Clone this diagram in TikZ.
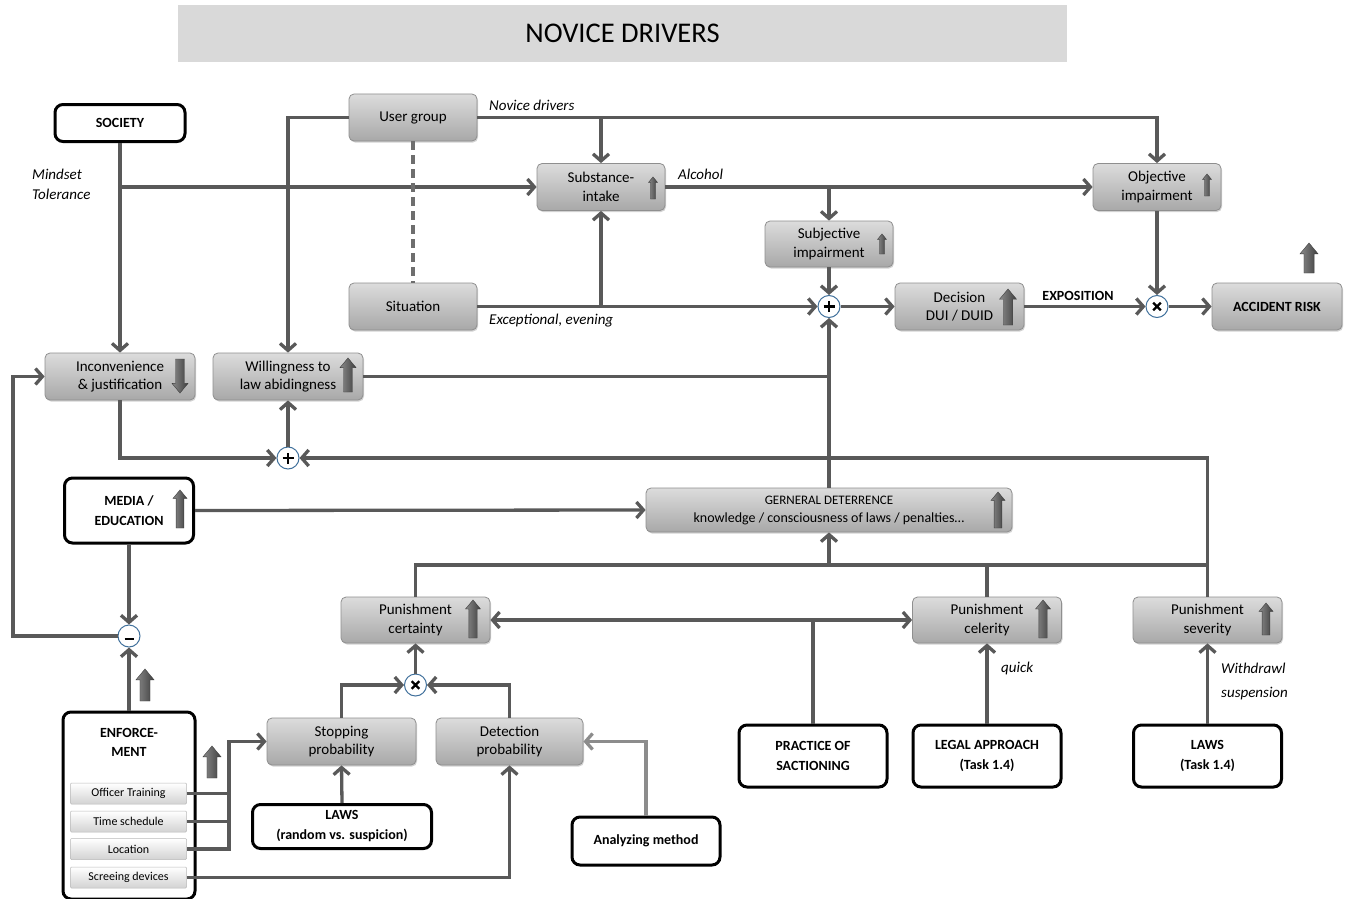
\documentclass[tikz,border=0pt]{standalone}
\usepackage{fontspec}
\setmainfont{Carlito}
\usetikzlibrary{arrows.meta,shadows,calc}

\definecolor{ln}{HTML}{595959}
\definecolor{lnlight}{HTML}{8C8C8C}
\definecolor{dashcol}{HTML}{6E6E6E}
\definecolor{boxtop}{HTML}{DCDCDC}
\definecolor{boxbot}{HTML}{A8A8A8}
\definecolor{boxedge}{HTML}{8F8F8F}
\definecolor{iconL}{HTML}{8A8A8A}
\definecolor{iconR}{HTML}{3F3F3F}
\definecolor{opedge}{HTML}{41719C}
\definecolor{titlebg}{HTML}{D9D9D9}

\tikzset{
  >={Straight Barb[length=7pt,width=16pt]},
  gbox/.style={rounded corners=5pt, draw=boxedge, line width=0.8pt,
    top color=boxtop, bottom color=boxbot, align=center, inner sep=0pt,
    font=\fontsize{15}{18.5}\selectfont,
    drop shadow={opacity=0.35, shadow xshift=1pt, shadow yshift=-1.5pt}},
  wbox/.style={rounded corners=8pt, draw=black, line width=3pt, fill=white,
    align=center, inner sep=0pt, font=\bfseries\fontsize{14}{20}\selectfont},
  sbox/.style={draw=gray!55, line width=0.5pt, top color=white, bottom color=gray!35,
    rounded corners=1pt, minimum width=116, minimum height=21, inner sep=0pt,
    font=\fontsize{12}{14}\selectfont},
  op/.style={circle, draw=opedge, line width=1pt, fill=white, minimum size=22, inner sep=0pt},
  symline/.style={draw=black, line width=2.6pt},
  conn/.style={draw=ln, line width=3.3pt, ->},
  dconn/.style={draw=ln, line width=3.3pt, <->},
  wire/.style={draw=ln, line width=3.3pt},
  lbl/.style={font=\itshape\fontsize{15}{17}\selectfont, anchor=west, inner sep=0pt},
}

% block arrow icon: centre x, centre y, height, width, direction (1 up, -1 down)
\newcommand{\arrowicon}[5]{%
  \begin{scope}[shift={(#1,#2)}, yscale=#5]
    \path[left color=iconL, right color=iconR, draw=iconR, line width=0.4pt]
      (0,{-#3/2}) -- ({#4/2},{-#3/2+0.6*#4}) -- ({0.28*#4},{-#3/2+0.6*#4})
      -- ({0.28*#4},{#3/2}) -- ({-0.28*#4},{#3/2}) -- ({-0.28*#4},{-#3/2+0.6*#4})
      -- ({-#4/2},{-#3/2+0.6*#4}) -- cycle;
  \end{scope}}

\newcommand{\plussym}[1]{\draw[symline] ([xshift=-5.5pt]#1.center) -- ([xshift=5.5pt]#1.center)
  ([yshift=-5.5pt]#1.center) -- ([yshift=5.5pt]#1.center);}
\newcommand{\timessym}[1]{\draw[symline, line width=2.3pt] ([shift={(-3.8pt,-3.8pt)}]#1.center) -- ([shift={(3.8pt,3.8pt)}]#1.center)
  ([shift={(-3.8pt,3.8pt)}]#1.center) -- ([shift={(3.8pt,-3.8pt)}]#1.center);}
\newcommand{\minussym}[1]{\draw[symline] ([shift={(-4.5pt,-3pt)}]#1.center) -- ([shift={(4.5pt,-3pt)}]#1.center);}

\begin{document}
\begin{tikzpicture}[x=1pt, y=-1pt]
\useasboundingbox (0,0) rectangle (1350,899);
\fill[white] (0,0) rectangle (1350,899);

% title bar
\node[fill=titlebg, minimum width=889, minimum height=57, inner sep=0pt,
  font=\fontsize{28.5}{30}\selectfont] (title) at (622.5,33.5) {NOVICE DRIVERS};

% grey factor boxes
\node[gbox, minimum width=128, minimum height=47] (ug) at (413,117.5) {User group};
\node[gbox, minimum width=128, minimum height=47] (sit) at (413,306.5) {Situation};
\node[gbox, minimum width=128, minimum height=47] (sub) at (601,187) {Substance-\\intake};
\node[gbox, minimum width=128, minimum height=47] (obj) at (1157,187) {Objective\\impairment};
\node[gbox, minimum width=128, minimum height=46] (subj) at (829,244) {Subjective\\impairment};
\node[gbox, minimum width=129, minimum height=47] (dec) at (959.5,306.5) {Decision\\DUI / DUID};
\node[gbox, minimum width=130, minimum height=47, font=\bfseries\fontsize{14}{16}\selectfont] (acc) at (1277,306.5) {ACCIDENT RISK};
\node[gbox, minimum width=150, minimum height=47] (inc) at (120,376.5) {Inconvenience\\\& justification};
\node[gbox, minimum width=150, minimum height=47] (wil) at (288,376.5) {Willingness to\\law abidingness};
\node[gbox, minimum width=366, minimum height=44, font=\fontsize{14}{18}\selectfont] (gd) at (829,510)
  {{\fontsize{13}{16}\selectfont GERNERAL DETERRENCE}\\knowledge / consciousness of laws / penalties…};
\node[gbox, minimum width=149, minimum height=46] (cert) at (415.5,620) {Punishment\\certainty};
\node[gbox, minimum width=149, minimum height=46] (cel) at (987,620) {Punishment\\celerity};
\node[gbox, minimum width=149, minimum height=46] (sev) at (1207.5,620) {Punishment\\severity};
\node[gbox, minimum width=149, minimum height=47] (stop) at (341.5,741.5) {Stopping\\probability};
\node[gbox, minimum width=147, minimum height=47] (det) at (509.5,741.5) {Detection\\probability};

% white source boxes
\node[wbox, minimum width=130, minimum height=37] (soc) at (120,123) {SOCIETY};
\node[wbox, minimum width=129, minimum height=65] (med) at (129,510.5) {MEDIA /\\EDUCATION};
\node[wbox, minimum width=132, minimum height=187] (enf) at (129,805.5) {};
\node[font=\bfseries\fontsize{14}{19}\selectfont, align=center, inner sep=0pt] (enft) at (129,742) {ENFORCE-\\MENT};
\node[sbox] (s1) at (128.5,793.5) {Officer Training};
\node[sbox] (s2) at (128.5,821.5) {Time schedule};
\node[sbox] (s3) at (128.5,849) {Location};
\node[sbox] (s4) at (128.5,877.5) {Screeing devices};
\node[wbox, minimum width=179, minimum height=44] (lawsr) at (342,826.5) {LAWS\\(random vs. suspicion)};
\node[wbox, minimum width=148, minimum height=48] (ana) at (646,841) {Analyzing method};
\node[wbox, minimum width=148, minimum height=62] (prac) at (813,756) {PRACTICE OF\\SACTIONING};
\node[wbox, minimum width=148, minimum height=62] (legal) at (987,756) {LEGAL APPROACH\\(Task 1.4)};
\node[wbox, minimum width=148, minimum height=62] (laws) at (1207.5,756) {LAWS\\(Task 1.4)};

% operators
\node[op] (p1) at (829,306.5) {};
\node[op] (x1) at (1157,306.5) {};
\node[op] (p2) at (288,458) {};
\node[op] (mn) at (129,636) {};
\node[op] (x2) at (415.5,685) {};
\plussym{p1}
\plussym{p2}
\timessym{x1}
\timessym{x2}
\minussym{mn}

% helper points
\coordinate (lft) at (13,636);
\coordinate (bar) at (829,565);
\coordinate (jn) at (229,741.5);

% upper causal chain
\draw[conn] (soc.south) -- (inc.north);
\draw[conn] (soc.south |- sub.west) -- (sub.west);
\draw[conn] (ug.west) -| (wil.north);
\draw[conn] (ug.east) -| (obj.north);
\draw[conn] (ug.east -| sub.north) -- (sub.north);
\draw[draw=dashcol, line width=3.3pt, dash pattern=on 9pt off 5pt] (ug.south) -- (sit.north);
\draw[conn] (sit.east) -- (p1.west);
\draw[conn] (sit.east -| sub.south) -- (sub.south);
\draw[conn] (sub.east) -- (obj.west);
\draw[conn] (sub.east -| subj.north) -- (subj.north);
\draw[conn] (subj.south) -- (p1.north);
\draw[conn] (p1.east) -- (dec.west);
\draw[conn] (dec.east) -- (x1.west);
\draw[conn] (obj.south) -- (x1.north);
\draw[conn] (x1.east) -- (acc.west);

% deterrence feedback
\draw[wire] (wil.east) -- (wil.east -| p1.south);
\draw[conn] (gd.north) -- (p1.south);
\draw[conn] (inc.south) |- (p2.west);
\draw[conn] (sev.north) |- (p2.east);
\draw[conn] (p2.north) -- (wil.south);
\draw[wire] (cert.north) |- (bar);
\draw[wire] (bar) -- (bar -| sev.north);
\draw[wire] (cel.north) -- (cel.north |- bar);
\draw[conn] (bar) -- (gd.south);
\draw[conn] (med.east) -- (gd.west);
\draw[conn] (med.south) -- (mn.north);
\draw[conn] (enf.north) -- (mn.south);
\draw[conn] (mn.west) -- (lft) |- (inc.west);

% enforcement inputs
\draw[wire] (s1.east) -- (s1.east -| jn);
\draw[wire] (s2.east) -- (s2.east -| jn);
\draw[conn] (s3.east) -| (jn) -- (stop.west);
\draw[conn] (s4.east) -| (det.south);
\draw[conn] (lawsr.north) -- (stop.south);
\draw[conn] (stop.north) |- (x2.west);
\draw[conn] (det.north) |- (x2.east);
\draw[conn] (x2.north) -- (cert.south);
\draw[conn, draw=lnlight] (ana.north) |- (det.east);
\draw[wire] (prac.north) -- (prac.north |- cert.east);
\draw[dconn] (cert.east) -- (cel.west);
\draw[conn] (legal.north) -- (cel.south);
\draw[conn] (laws.north) -- (sev.south);

% trend icons
\arrowicon{653}{188}{22}{9}{1}
\arrowicon{1207}{185}{22}{9}{1}
\arrowicon{882}{244}{20}{9}{1}
\arrowicon{1008}{307}{36}{17}{1}
\arrowicon{1309}{258}{30}{18}{1}
\arrowicon{180}{376}{34}{16}{-1}
\arrowicon{348}{375}{34}{16}{1}
\arrowicon{180}{509}{38}{14}{1}
\arrowicon{998}{510}{36}{14}{1}
\arrowicon{473}{619}{38}{15}{1}
\arrowicon{1043}{619}{38}{15}{1}
\arrowicon{1266}{619}{32}{14}{1}
\arrowicon{145}{685}{32}{18}{1}
\arrowicon{212}{762}{32}{18}{1}

% connector labels
\node[lbl] (lnov) at (489,105) {Novice drivers};
\node[lbl] (lmind) at (32,174) {Mindset};
\node[lbl] (ltol) at (32,194) {Tolerance};
\node[lbl] (lalc) at (678,174) {Alcohol};
\node[lbl] (lexc) at (489,321) {Exceptional, evening};
\node[font=\bfseries\fontsize{14}{16}\selectfont, inner sep=0pt] (lexp) at (1078,296) {EXPOSITION};
\node[lbl] (lq) at (1001,668) {quick};
\node[lbl] (lw) at (1221,668) {Withdrawl};
\node[lbl] (ls) at (1221,694) {suspension};
\end{tikzpicture}
\end{document}
